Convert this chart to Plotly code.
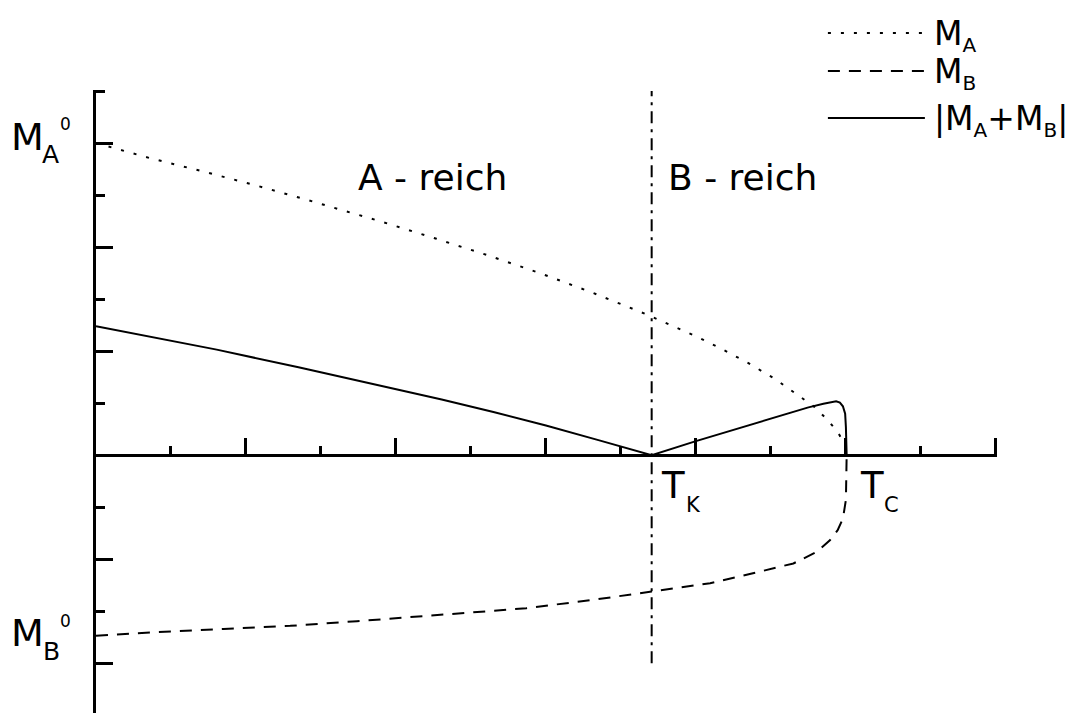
import plotly.graph_objects as go

# Temperature in tick units (T_K, T_C marked), magnetisation in tick units
T_K = 7.41
T_C = 10.01

T_A = [0, 0.72, 1.41, 2.10, 2.81, 3.50, 3.83, 4.54, 5.23, 5.92, 6.61, 7.32,
       7.65, 8.01, 8.36, 8.70, 9.05, 9.40, 9.58, 9.74, 9.89, 9.99, 10.01]
M_A = [6.0, 5.71, 5.46, 5.20, 4.91, 4.62, 4.48, 4.16, 3.84, 3.50, 3.13, 2.72,
       2.51, 2.28, 2.03, 1.77, 1.47, 1.12, 0.93, 0.70, 0.45, 0.19, 0]

T_B = [0, 0.81, 1.70, 2.59, 3.48, 4.36, 4.94, 5.74, 6.63, 7.41, 8.19, 8.76,
       9.30, 9.61, 9.79, 9.89, 9.96, 10.0, 10.01, 10.01]
M_B = [-3.47, -3.40, -3.34, -3.28, -3.19, -3.10, -3.03, -2.94, -2.78, -2.62,
       -2.46, -2.27, -2.08, -1.86, -1.63, -1.44, -1.22, -0.86, -0.23, 0]

T_SUM = [0, 0.8, 1.61, 2.7, 3.79, 4.61, 5.3, 6.0, 6.7, 7.41, 8.0, 8.5, 9.0,
         9.5, 9.7, 9.8, 9.87, 9.92, 9.96, 9.99, 10.0, 10.01]
M_SUM = [2.48, 2.26, 2.03, 1.69, 1.34, 1.07, 0.83, 0.57, 0.29, 0, 0.27, 0.49,
         0.71, 0.92, 0.99, 1.025, 1.035, 1.01, 0.94, 0.80, 0.54, 0]

T_LINE = [T_K, T_K]
M_LINE = [-4.0, 7.0]

X_RANGE = [0, 12.015]
Y_RANGE = [-4.955, 7.02]

# page body has an 8px margin, so the figure is drawn 8px smaller/shifted
PAD = 8
W, H = 1074 - PAD, 713 - PAD
L, T = 96 - PAD, 90 - PAD
R = L + 900 * (X_RANGE[1] - X_RANGE[0]) / 12
B = H
FONT = "DejaVu Sans, Liberation Sans, sans-serif"


def px(x):
    # screen pixel -> paper fraction
    return (x - PAD - L) / (R - L)


def py(y):
    return (B - (y - PAD)) / (B - T)


def small(s, size):
    return '<span style="font-size:%dpx">%s</span>' % (size, s)


fig = go.Figure()

fig.add_trace(go.Scatter(x=T_A, y=M_A, mode='lines',
                         line=dict(color='black', width=2, dash='3px,10px')))
fig.add_trace(go.Scatter(x=T_B, y=M_B, mode='lines',
                         line=dict(color='black', width=2, dash='12px,9px')))
fig.add_trace(go.Scatter(x=T_SUM, y=M_SUM, mode='lines',
                         line=dict(color='black', width=2)))
fig.add_trace(go.Scatter(x=T_LINE, y=M_LINE, mode='lines',
                         line=dict(color='black', width=2, dash='12px,6px,3px,6px')))

# legend drawn by hand, long sample lines
legend_rows = [
    (33, '3px,10px', 'M<sub>%s</sub>' % small('A', 20)),
    (71, '12px,9px', 'M<sub>%s</sub>' % small('B', 20)),
    (118, 'solid', '|M<sub>%s</sub>+M<sub>%s</sub>|' % (small('A', 20), small('B', 20))),
]
for yy, dash, label in legend_rows:
    fig.add_shape(type='line', xref='paper', yref='paper',
                  x0=px(828), x1=px(925), y0=py(yy), y1=py(yy),
                  line=dict(color='black', width=2, dash=dash))
    fig.add_annotation(x=px(932), y=py(yy + 3), xref='paper', yref='paper',
                       text=label, showarrow=False, xanchor='left', yanchor='middle',
                       font=dict(size=33, color='black', family=FONT))

# labels; symbol, subscript and superscript placed as separate pieces
texts = [
    (433, 178, 'A - reich', 36),
    (743, 178, 'B - reich', 36),
    (27.5, 137, 'M', 38), (50.5, 154, 'A', 25), (65, 124, '0', 17),
    (27.5, 633, 'M', 38), (51, 651, 'B', 25), (65, 621, '0', 17),
    (673.5, 486, 'T', 37), (694, 505, 'K', 21),
    (872.5, 486, 'T', 37), (892, 505, 'C', 21),
]
for xx, yy, label, size in texts:
    fig.add_annotation(x=px(xx), y=py(yy), xref='paper', yref='paper',
                       text=label, showarrow=False, xanchor='center', yanchor='middle',
                       font=dict(size=size, color='black', family=FONT))

fig.update_layout(
    width=W, height=H,
    margin=dict(l=L, r=W - R, t=T, b=H - B, pad=0),
    plot_bgcolor='white', paper_bgcolor='white',
    showlegend=False,
    xaxis=dict(range=X_RANGE, showgrid=False, zeroline=False,
               showline=True, linewidth=3, linecolor='black',
               ticks='inside', ticklen=16, tickwidth=3, tickcolor='black',
               tick0=0, dtick=2, showticklabels=False,
               anchor='free', position=(0 - Y_RANGE[0]) / (Y_RANGE[1] - Y_RANGE[0]),
               minor=dict(ticks='inside', ticklen=8, tickwidth=3, tickcolor='black',
                          tick0=0, dtick=1, showgrid=False)),
    yaxis=dict(range=Y_RANGE, showgrid=False, zeroline=False,
               showline=True, linewidth=3, linecolor='black',
               ticks='inside', ticklen=17, tickwidth=3, tickcolor='black',
               tick0=0, dtick=2, showticklabels=False,
               minor=dict(ticks='inside', ticklen=9, tickwidth=3, tickcolor='black',
                          tick0=0, dtick=1, showgrid=False)),
)

fig.write_html("out.html")
